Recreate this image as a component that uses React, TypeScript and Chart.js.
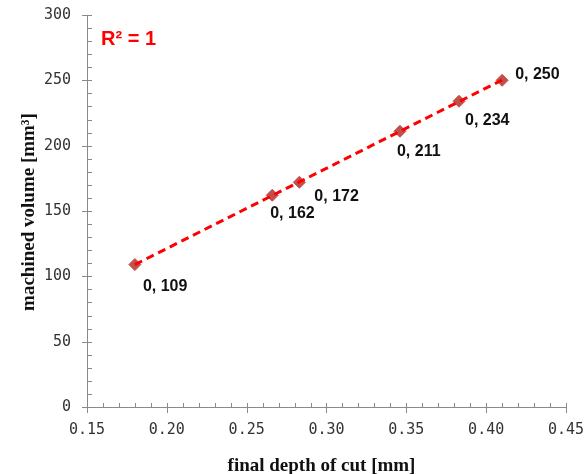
import React, { useEffect, useRef } from "react";
import { Chart, registerables } from "chart.js";

Chart.register(...registerables);

// Measured points: final depth of cut [mm] vs machined volume [mm³]
const depthOfCut = [0.18, 0.266, 0.283, 0.346, 0.383, 0.41];
const machinedVolume = [109, 162, 172, 211, 234, 250];

// Axis ranges and tick steps
const xTicks = { min: 0.15, max: 0.45, step: 0.05, minor: 0.01 };
const yTicks = { min: 0, max: 300, step: 50, minor: 10 };

const xTitle = "final depth of cut [mm]";
const yTitle = "machined volume [mm³]";
const fitLabel = "R² = 1";

// Where each data label sits relative to its marker (left edge, vertical middle)
const labelOffsets: [number, number][] = [
  [8, 22],
  [-2, 18],
  [15, 14],
  [-3, 20],
  [6, 19],
  [13, -6],
];

const AXIS_COLOR = "#8a8a8a";

// Least-squares fit through the measured points
function linearFit(xs: number[], ys: number[]) {
  const n = xs.length;
  const mx = xs.reduce((a, b) => a + b, 0) / n;
  const my = ys.reduce((a, b) => a + b, 0) / n;
  let sxy = 0;
  let sxx = 0;
  for (let i = 0; i < n; i++) {
    sxy += (xs[i] - mx) * (ys[i] - my);
    sxx += (xs[i] - mx) ** 2;
  }
  const slope = sxy / sxx;
  return { slope, intercept: my - slope * mx };
}

const axisPlugin = {
  id: "axisDecor",
  afterDraw(chart: any) {
    const { ctx, chartArea, scales } = chart;
    const xs = scales.x;
    const ys = scales.y;
    const left = chartArea.left;
    const bottom = chartArea.bottom;
    ctx.save();
    ctx.strokeStyle = AXIS_COLOR;
    ctx.lineWidth = 1;
    ctx.beginPath();
    // axis lines
    ctx.moveTo(Math.round(left) + 0.5, chartArea.top);
    ctx.lineTo(Math.round(left) + 0.5, bottom);
    ctx.moveTo(left, Math.round(bottom) + 0.5);
    ctx.lineTo(chartArea.right, Math.round(bottom) + 0.5);
    // y ticks
    const yCount = Math.round((yTicks.max - yTicks.min) / yTicks.minor);
    for (let i = 0; i <= yCount; i++) {
      const v = yTicks.min + i * yTicks.minor;
      const py = Math.round(ys.getPixelForValue(v)) + 0.5;
      const major = i % Math.round(yTicks.step / yTicks.minor) === 0;
      ctx.moveTo(major ? left - 5 : left, py);
      ctx.lineTo(left + 5, py);
    }
    // x ticks
    const xCount = Math.round((xTicks.max - xTicks.min) / xTicks.minor);
    for (let i = 0; i <= xCount; i++) {
      const v = xTicks.min + i * xTicks.minor;
      const px = Math.round(xs.getPixelForValue(v)) + 0.5;
      const major = i % Math.round(xTicks.step / xTicks.minor) === 0;
      ctx.moveTo(px, bottom - 4);
      ctx.lineTo(px, major ? bottom + 6 : bottom);
    }
    ctx.stroke();

    // axis titles
    ctx.fillStyle = "#111";
    ctx.font = "bold 19px 'Liberation Serif', 'Times New Roman', serif";
    ctx.textAlign = "center";
    ctx.textBaseline = "middle";
    ctx.fillText(xTitle, (chartArea.left + chartArea.right) / 2 - 5, 466);
    ctx.save();
    ctx.translate(29, (chartArea.top + chartArea.bottom) / 2 + 1);
    ctx.rotate(-Math.PI / 2);
    ctx.fillText(yTitle, 0, 0);
    ctx.restore();

    // fit annotation
    ctx.fillStyle = "#ff0000";
    ctx.font = "bold 20px 'Liberation Sans', Arial, sans-serif";
    ctx.textAlign = "left";
    ctx.textBaseline = "alphabetic";
    ctx.fillText(fitLabel, 101, 45);

    // data labels
    const meta = chart.getDatasetMeta(1);
    ctx.fillStyle = "#111";
    ctx.font = "bold 16px 'Liberation Sans', Arial, sans-serif";
    ctx.textBaseline = "middle";
    meta.data.forEach((pt: any, i: number) => {
      const [dx, dy] = labelOffsets[i];
      const text = `${Math.round(depthOfCut[i])}, ${machinedVolume[i]}`;
      ctx.fillText(text, pt.x + dx, pt.y + dy);
    });
    ctx.restore();
  },
};

export default function App() {
  const canvasRef = useRef<HTMLCanvasElement>(null);

  useEffect(() => {
    if (!canvasRef.current) return;
    const fit = linearFit(depthOfCut, machinedVolume);
    const x0 = depthOfCut[0];
    const x1 = depthOfCut[depthOfCut.length - 1];
    const trend = [
      { x: x0, y: fit.intercept + fit.slope * x0 },
      { x: x1, y: fit.intercept + fit.slope * x1 },
    ];
    const points = depthOfCut.map((x, i) => ({ x, y: machinedVolume[i] }));

    const tickFont = { family: "'DejaVu Sans Mono', monospace", size: 15 };

    const chart = new Chart(canvasRef.current, {
      type: "scatter",
      data: {
        datasets: [
          {
            type: "line",
            data: trend,
            borderColor: "#ff0000",
            borderWidth: 3,
            borderDash: [8, 5],
            pointRadius: 0,
            fill: false,
            order: 0,
          },
          {
            data: points,
            pointStyle: "rectRot",
            pointRadius: 6,
            backgroundColor: "#c0504d",
            borderColor: "#c0504d",
            borderWidth: 1,
            order: 1,
          },
        ],
      },
      options: {
        responsive: false,
        animation: false,
        layout: { padding: { top: 15, right: 19, left: 0, bottom: 0 } },
        plugins: {
          legend: { display: false },
          tooltip: { enabled: false },
        },
        scales: {
          x: {
            type: "linear",
            min: xTicks.min,
            max: xTicks.max,
            grid: { display: false, drawTicks: false },
            border: { display: false },
            ticks: {
              stepSize: xTicks.step,
              padding: 14,
              color: "#333",
              font: tickFont,
              callback: (v: any) => Number(v).toFixed(2),
            },
            afterFit: (s: any) => {
              s.height = 67;
              s.paddingLeft = 0;
              s.paddingRight = 0;
            },
          },
          y: {
            type: "linear",
            min: yTicks.min,
            max: yTicks.max,
            grid: { display: false, drawTicks: false },
            border: { display: false },
            ticks: {
              stepSize: yTicks.step,
              padding: 16,
              color: "#333",
              font: tickFont,
            },
            afterFit: (s: any) => {
              s.width = 87;
              s.paddingTop = 0;
              s.paddingBottom = 0;
            },
          },
        },
      },
      plugins: [axisPlugin],
    });
    return () => chart.destroy();
  }, []);

  return (
    <div style={{ position: "absolute", left: 0, top: 0, width: 585, height: 474, background: "#fff" }}>
      <canvas ref={canvasRef} width={585} height={474} />
    </div>
  );
}
